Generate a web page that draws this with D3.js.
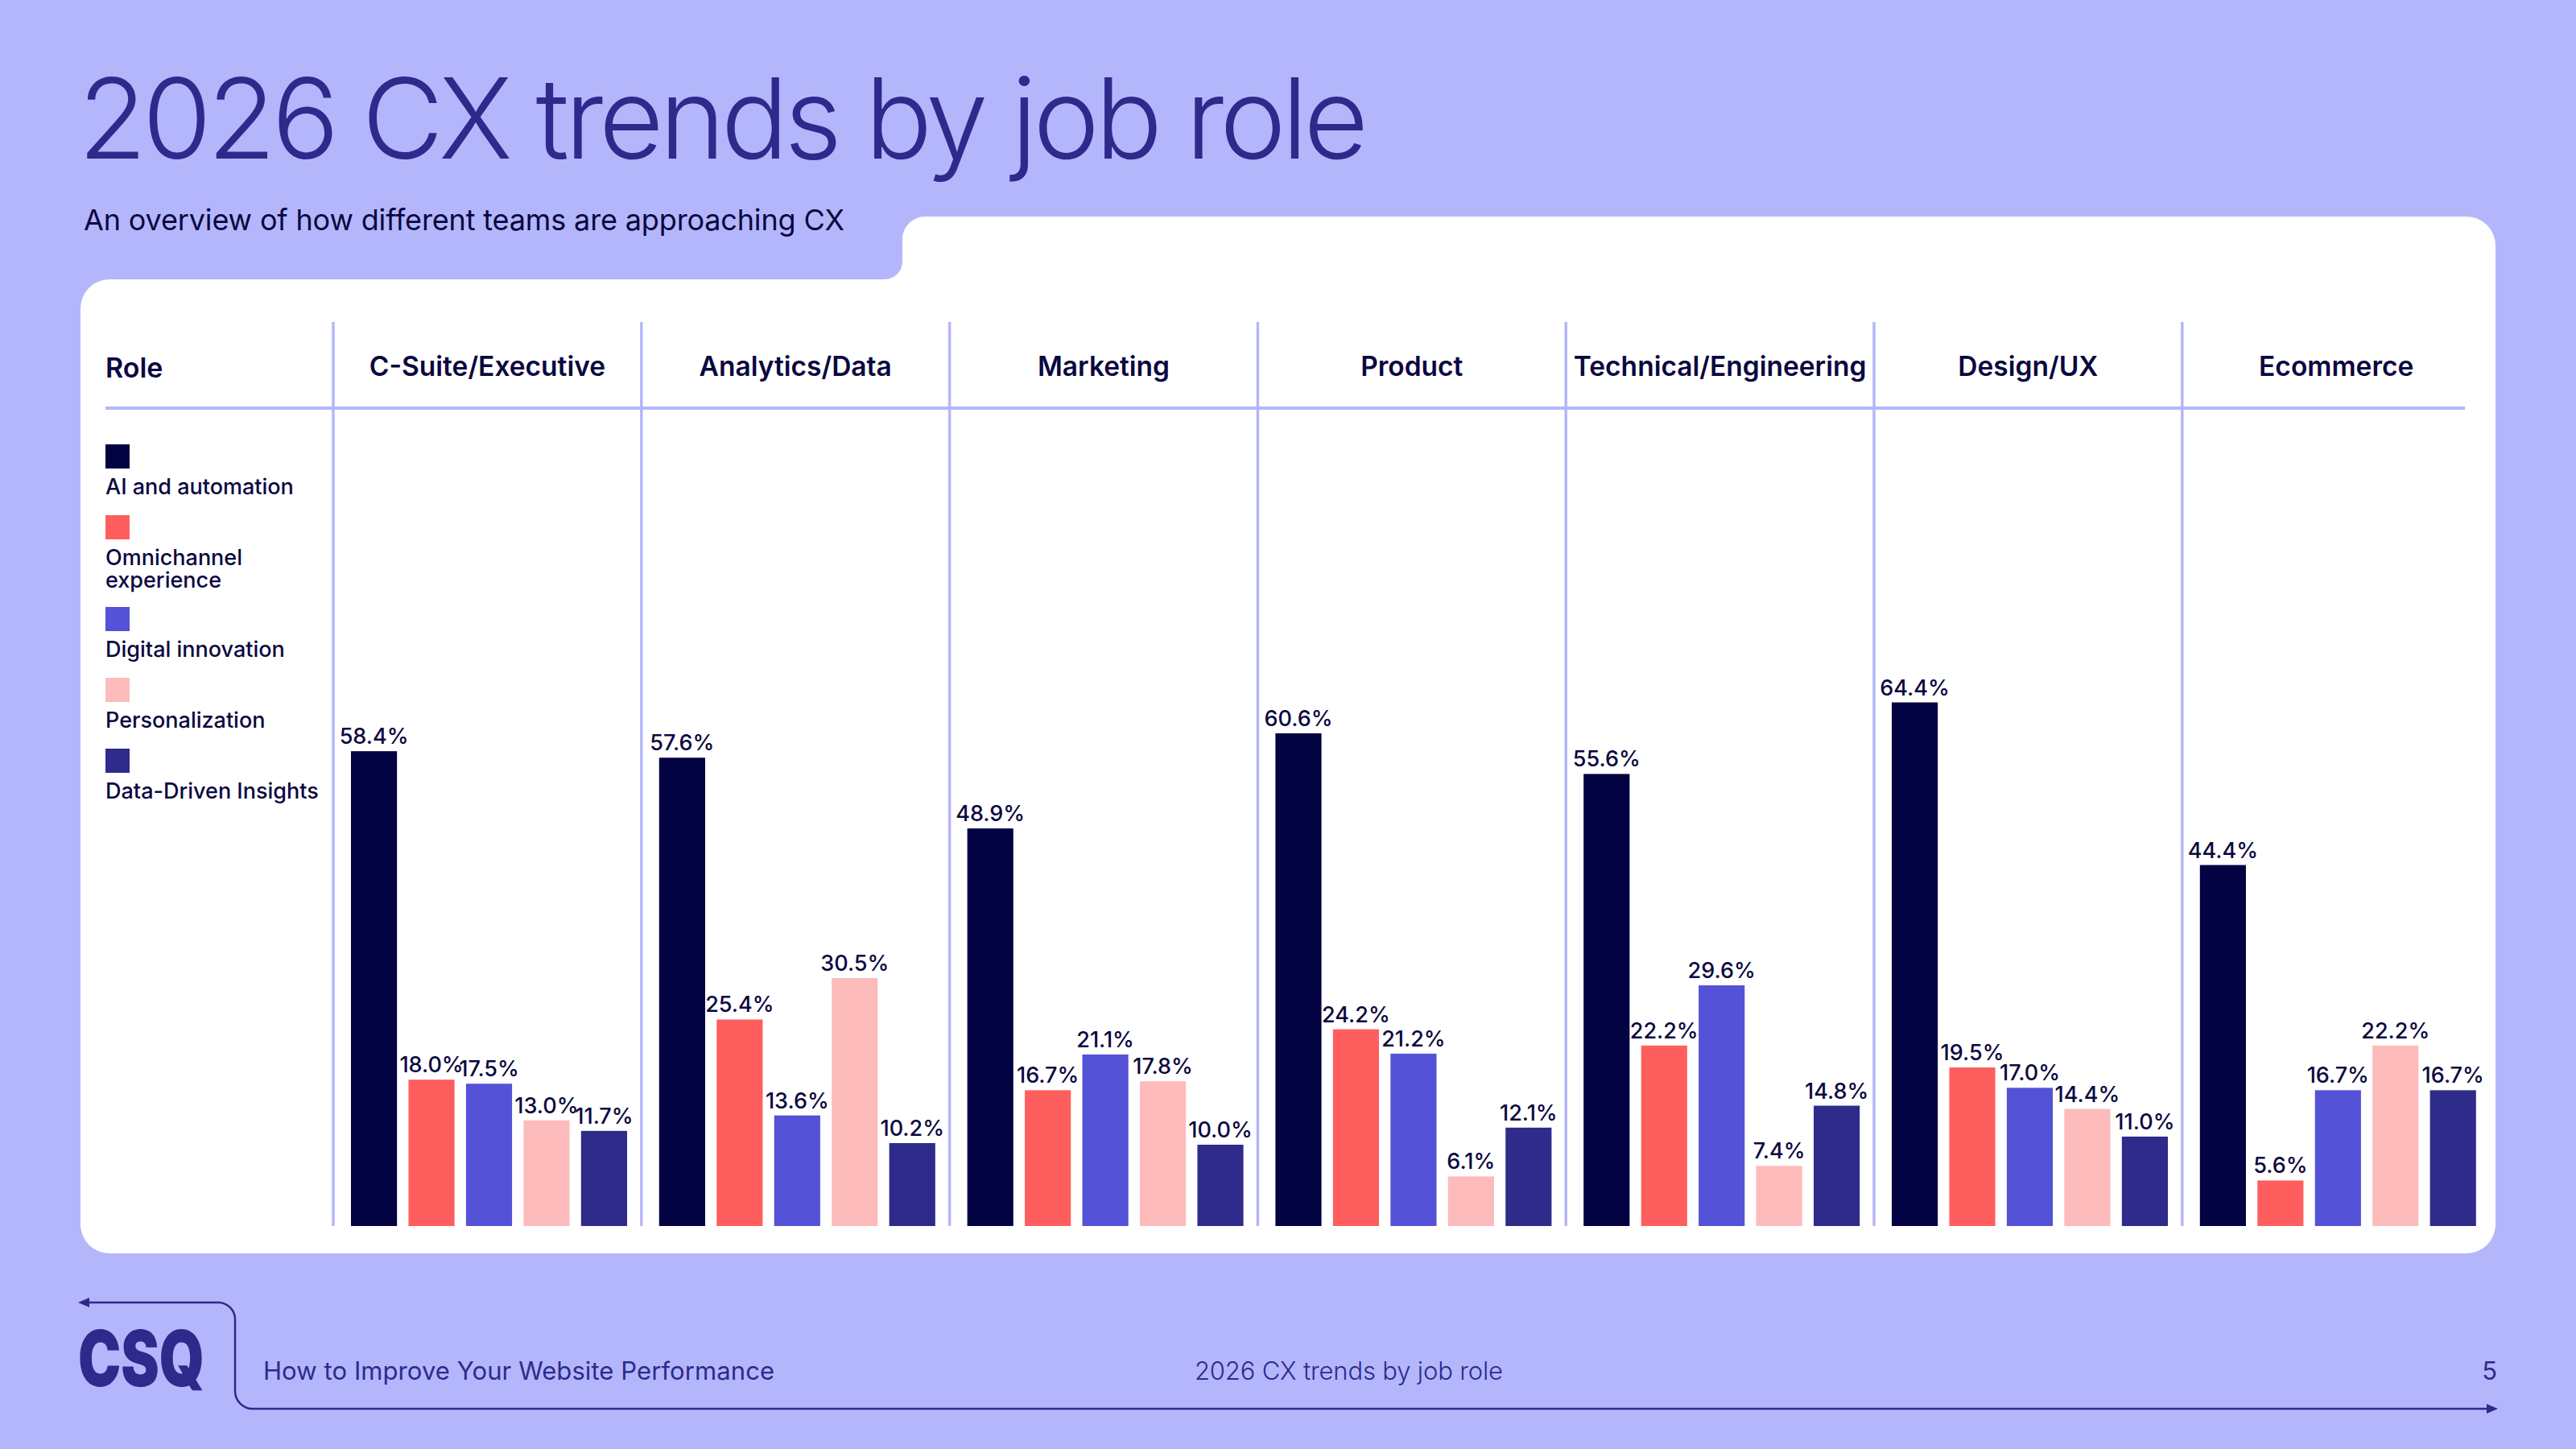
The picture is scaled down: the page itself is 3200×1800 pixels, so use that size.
<!DOCTYPE html>
<html>
<head>
  <script src="https://d3js.org/d3.v7.min.js"></script>
  <style>
    body { margin: 0; background: #b4b6fc; }
    text { font-family: Inter, "Noto Sans", sans-serif; }
  </style>
</head>
<body>
  <svg id="chart" width="3200" height="1800">
    <g id="frame"/>
    <g id="grid"/>
    <g id="bars"/>
    <g id="labels"/>
    <g id="legend"/>
    <g id="footer"/>
  </svg>
  <script>
    // values, in %
    let roles = ["C-Suite/Executive", "Analytics/Data", "Marketing", "Product",
      "Technical/Engineering", "Design/UX", "Ecommerce"];
    let trends = ["AI and automation", "Omnichannel experience", "Digital innovation",
      "Personalization", "Data-Driven Insights"];
    let legendLines = [["AI and automation"], ["Omnichannel", "experience"],
      ["Digital innovation"], ["Personalization"], ["Data-Driven Insights"]];
    let aiAutomation = [58.4, 57.6, 48.9, 60.6, 55.6, 64.4, 44.4];
    let omnichannel = [18.0, 25.4, 16.7, 24.2, 22.2, 19.5, 5.6];
    let digitalInnovation = [17.5, 13.6, 21.1, 21.2, 29.6, 17.0, 16.7];
    let personalization = [13.0, 30.5, 17.8, 6.1, 7.4, 14.4, 22.2];
    let dataDriven = [11.7, 10.2, 10.0, 12.1, 14.8, 11.0, 16.7];
    let trendColors = ["#030242", "#ff5e5e", "#5452d6", "#fdbbbb", "#2e2b8a"];

    let width = 3200,
      height = 1800,
      ink = "#0a0840",
      indigo = "#2d2a8c",
      lilac = "#b4b6fc",
      card = { left: 100, right: 3100, bottom: 1557, top: 347, topHigh: 269, step: 1121, r: 36 },
      table = { top: 400, headLine: 507, base: 1523, left: 131, lineEnd: 3062 };

    let series = [aiAutomation, omnichannel, digitalInnovation, personalization, dataDriven];
    let data = [];
    roles.forEach((role, i) => {
      trends.forEach((t, j) => data.push({ role: role, trend: t, value: series[j][i] }));
    });

    let svg = d3.select("#chart");

    let scales = {
      col: d3.scaleBand().domain(roles).range([414, 414 + 7 * 382.8]),
      inner: d3.scaleBand().domain(trends).range([22, 365]).paddingInner(0.2),
      y: d3.scaleLinear().domain([0, 100]).range([table.base, table.base - 1010]),
      fill: d3.scaleOrdinal().domain(trends).range(trendColors)
    };

    // stretch or squeeze tracking so a text line spans the wanted width
    function fit(sel, target) {
      let n = sel.text().length;
      let len = sel.node().getComputedTextLength();
      sel.attr("letter-spacing", (target - len) / (n - 1));
    }

    function drawFrame() {
      let c = card, rc = 22, rv = 28;
      let p = d3.path();
      p.moveTo(c.left, c.top + c.r);
      p.arcTo(c.left, c.top, c.left + c.r, c.top, c.r);
      p.lineTo(c.step - rc, c.top);
      p.arcTo(c.step, c.top, c.step, c.top - rc, rc);
      p.lineTo(c.step, c.topHigh + rv);
      p.arcTo(c.step, c.topHigh, c.step + rv, c.topHigh, rv);
      p.lineTo(c.right - c.r, c.topHigh);
      p.arcTo(c.right, c.topHigh, c.right, c.topHigh + c.r, c.r);
      p.lineTo(c.right, c.bottom - c.r);
      p.arcTo(c.right, c.bottom, c.right - c.r, c.bottom, c.r);
      p.lineTo(c.left + c.r, c.bottom);
      p.arcTo(c.left, c.bottom, c.left, c.bottom - c.r, c.r);
      p.closePath();

      let g = d3.select("#frame");
      g.append("rect").attr("width", width).attr("height", height).attr("fill", lilac);
      g.append("path").attr("d", p.toString()).attr("fill", "#fff");

      let title = g.append("text")
        .attr("x", 97).attr("y", 197)
        .attr("font-size", 139).attr("font-weight", 350).attr("fill", indigo)
        .text("2026 CX trends by job role");
      fit(title, 1603);

      let sub = g.append("text")
        .attr("x", 104).attr("y", 286)
        .attr("font-size", 36).attr("fill", ink)
        .text("An overview of how different teams are approaching CX");
      fit(sub, 945);
    }

    function drawGrid() {
      let g = d3.select("#grid");
      g.selectAll("line.div")
        .data(roles).enter()
        .append("line")
        .attr("class", "div")
        .attr("x1", d => scales.col(d)).attr("x2", d => scales.col(d))
        .attr("y1", table.top).attr("y2", table.base)
        .attr("stroke", lilac).attr("stroke-width", 3.5);

      g.append("line")
        .attr("x1", table.left).attr("x2", table.lineEnd)
        .attr("y1", table.headLine).attr("y2", table.headLine)
        .attr("stroke", lilac).attr("stroke-width", 4);

      g.append("text")
        .attr("x", table.left).attr("y", 469)
        .attr("font-size", 34).attr("font-weight", 600).attr("fill", ink)
        .text("Role");

      g.selectAll("text.head")
        .data(roles).enter()
        .append("text")
        .attr("class", "head")
        .attr("x", d => scales.col(d) + scales.col.bandwidth() / 2)
        .attr("y", 467)
        .attr("text-anchor", "middle")
        .attr("font-size", 33.5).attr("font-weight", 600).attr("fill", ink)
        .text(d => d);
    }

    function drawBars() {
      let bx = d => scales.col(d.role) + scales.inner(d.trend);

      d3.select("#bars")
        .selectAll("rect")
        .data(data).enter()
        .append("rect")
        .attr("x", bx)
        .attr("width", scales.inner.bandwidth())
        .attr("y", d => scales.y(d.value))
        .attr("height", d => scales.y(0) - scales.y(d.value))
        .attr("fill", d => scales.fill(d.trend));

      d3.select("#labels")
        .selectAll("text")
        .data(data).enter()
        .append("text")
        .attr("x", d => bx(d) + scales.inner.bandwidth() / 2)
        .attr("y", d => scales.y(d.value) - 9)
        .attr("text-anchor", "middle")
        .attr("font-size", 27).attr("font-weight", 500).attr("fill", ink)
        .text(d => d.value.toFixed(1) + "%");
    }

    function drawLegend() {
      let g = d3.select("#legend");
      let y = 552;
      trends.forEach((t, i) => {
        g.append("rect")
          .attr("x", table.left).attr("y", y)
          .attr("width", 30).attr("height", 30)
          .attr("fill", scales.fill(t));
        let lab = g.append("text")
          .attr("x", table.left).attr("y", y + 62)
          .attr("font-size", 27).attr("font-weight", 500).attr("fill", ink);
        legendLines[i].forEach((line, k) => {
          lab.append("tspan").attr("x", table.left).attr("dy", k == 0 ? 0 : 28).text(line);
        });
        y += 88 + 26 * (legendLines[i].length - 1);
      });
    }

    function drawFooter() {
      let g = d3.select("#footer");
      let p = d3.path();
      p.moveTo(108, 1618);
      p.arcTo(292, 1618, 292, 1640, 21);
      p.arcTo(292, 1750, 314, 1750, 22);
      p.lineTo(3090, 1750);
      g.append("path").attr("d", p.toString())
        .attr("fill", "none").attr("stroke", indigo).attr("stroke-width", 2.5);
      g.append("path").attr("d", "M97,1618L111,1612L111,1624Z").attr("fill", indigo);
      g.append("path").attr("d", "M3103,1750L3089,1744L3089,1756Z").attr("fill", indigo);

      g.append("text")
        .attr("x", 97).attr("y", 1722)
        .attr("font-size", 96).attr("font-weight", 900).attr("fill", indigo)
        .attr("textLength", 157).attr("lengthAdjust", "spacingAndGlyphs")
        .text("CSQ");

      let left = g.append("text")
        .attr("x", 327).attr("y", 1714)
        .attr("font-size", 31).attr("fill", indigo)
        .text("How to Improve Your Website Performance");
      fit(left, 635);

      let mid = g.append("text")
        .attr("x", 1484).attr("y", 1714)
        .attr("font-size", 31).attr("font-weight", 300).attr("fill", indigo)
        .text("2026 CX trends by job role");
      fit(mid, 383);

      g.append("text")
        .attr("x", 3102).attr("y", 1714)
        .attr("text-anchor", "end")
        .attr("font-size", 31).attr("fill", indigo)
        .text("5");
    }

    drawFrame();
    drawGrid();
    drawBars();
    drawLegend();
    drawFooter();
  </script>
</body>
</html>
